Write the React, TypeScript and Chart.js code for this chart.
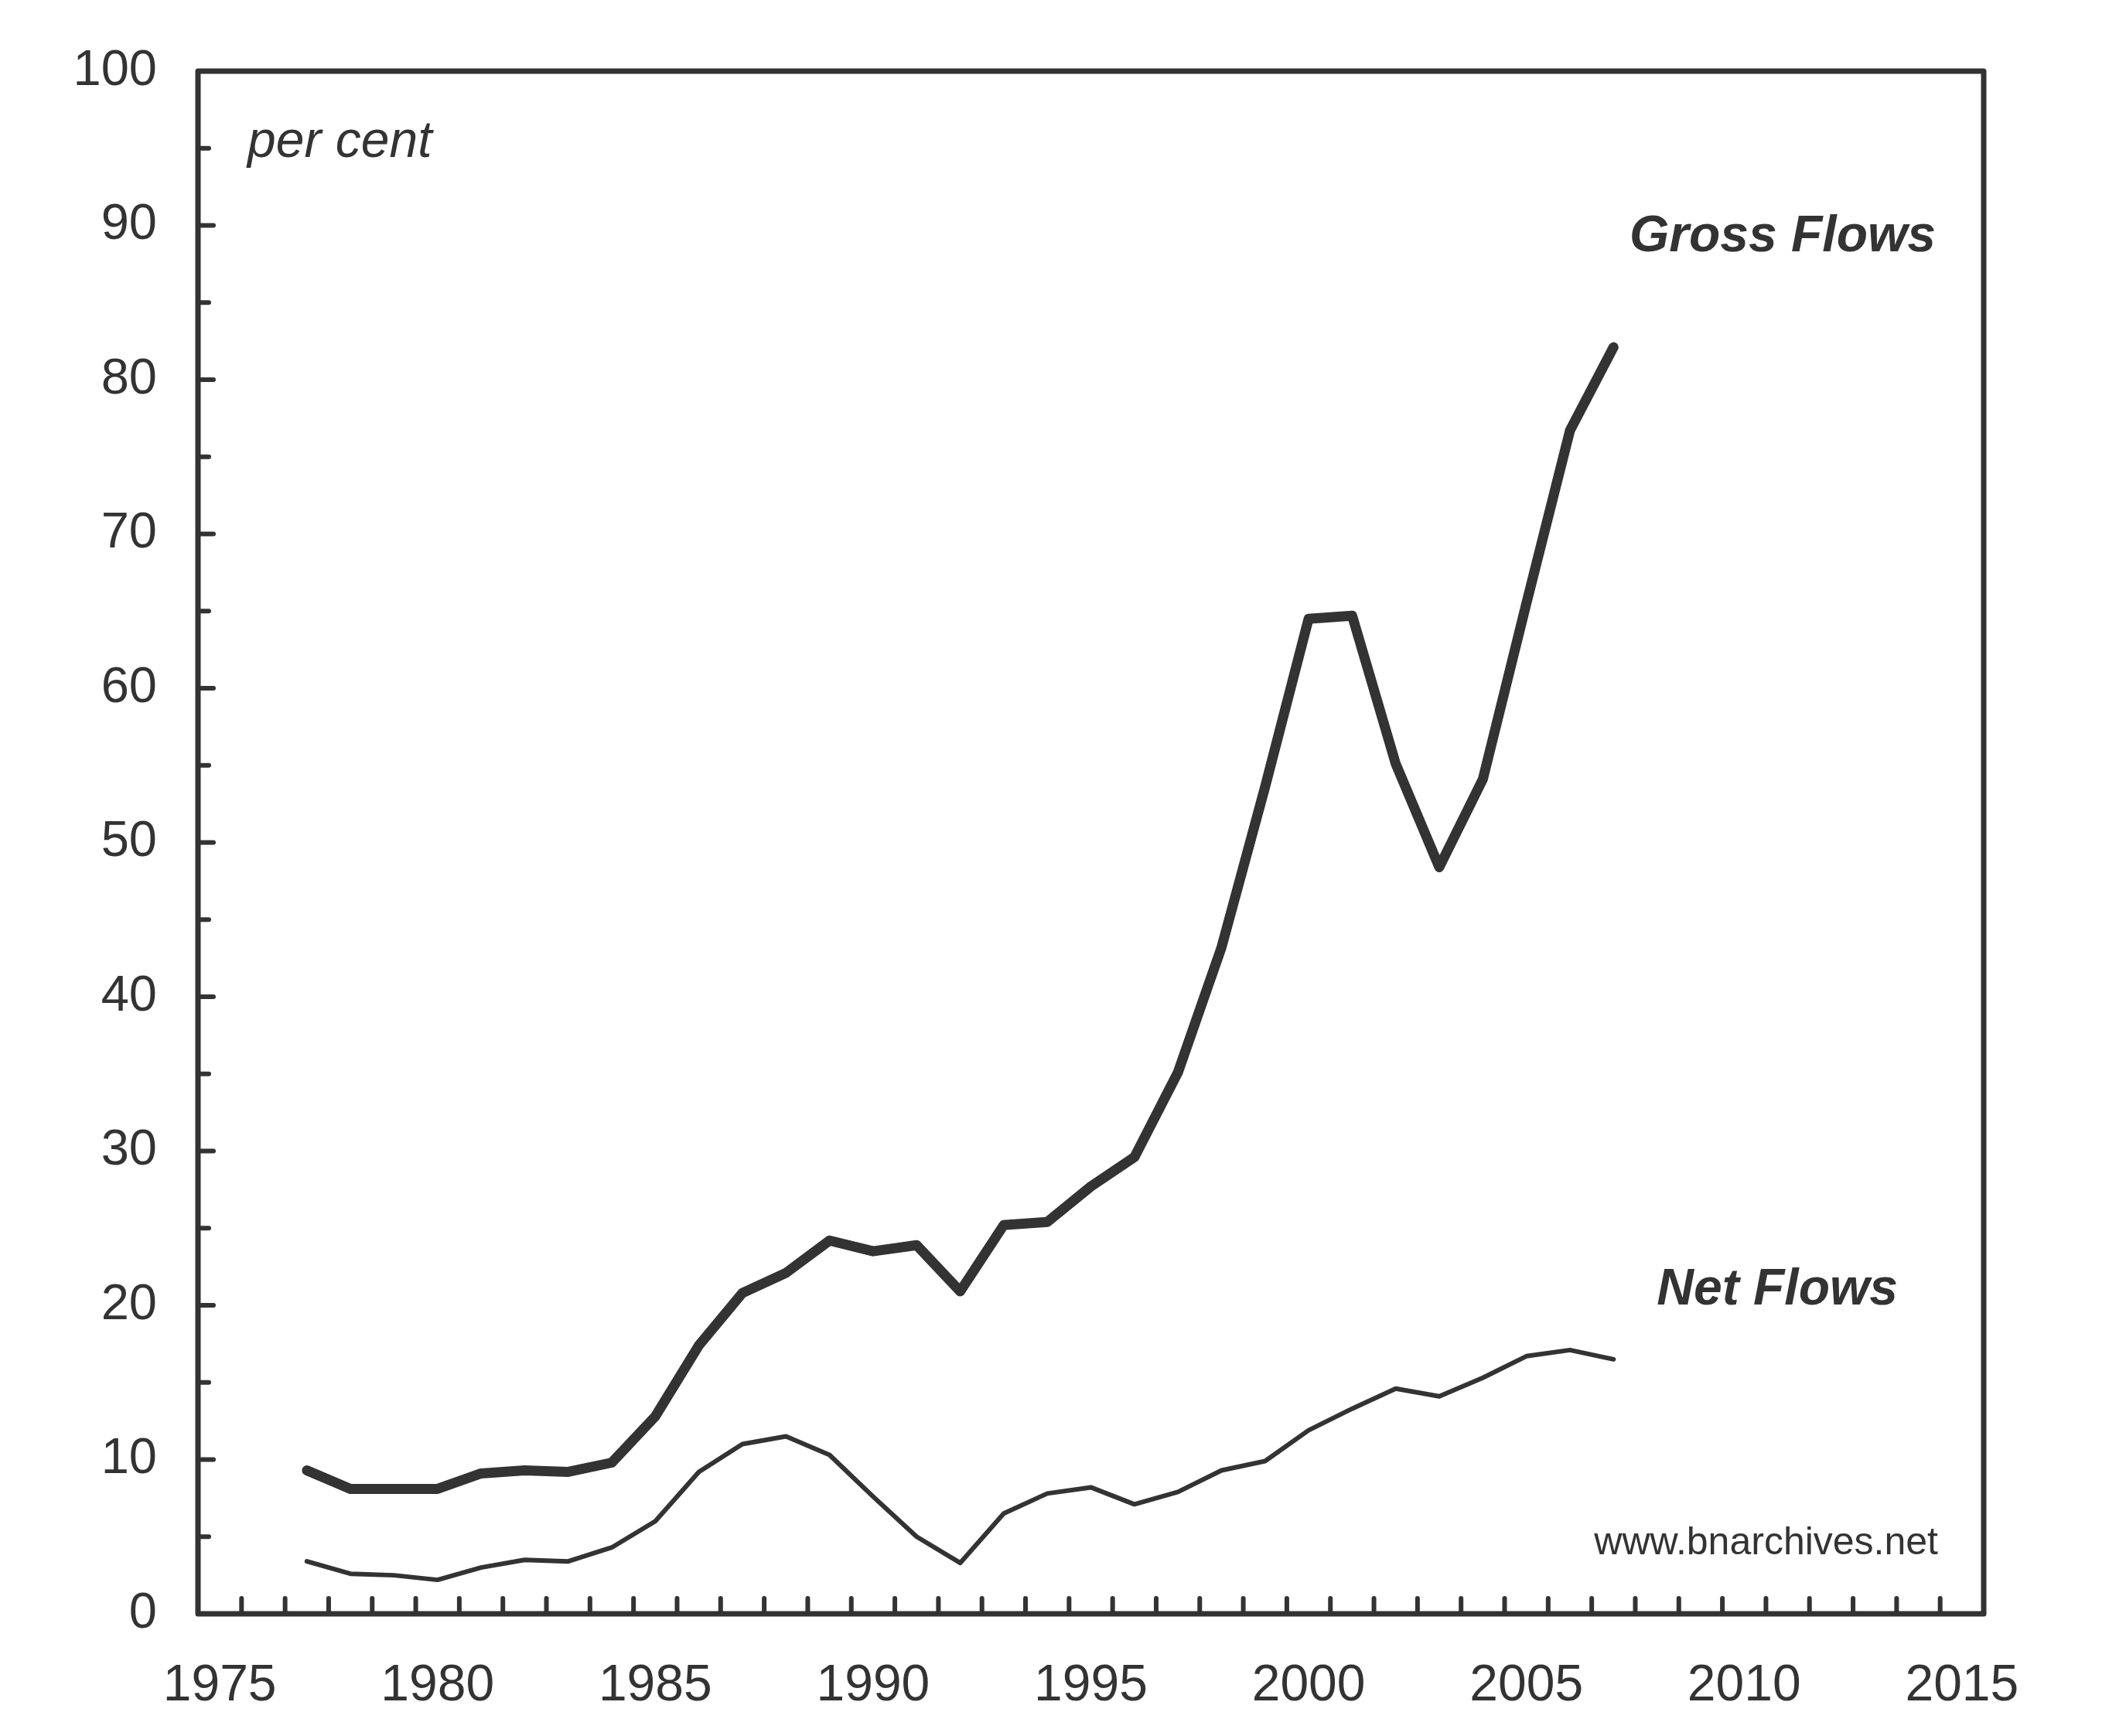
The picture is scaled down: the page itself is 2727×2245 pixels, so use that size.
import React, { useEffect, useRef } from "react";
import { Chart, registerables } from "chart.js";

Chart.register(...registerables);

// ---- data ----
const YEARS = [
  1977, 1978, 1979, 1980, 1981, 1982, 1983, 1984, 1985, 1986, 1987, 1988, 1989, 1990, 1991, 1992,
  1993, 1994, 1995, 1996, 1997, 1998, 1999, 2000, 2001, 2002, 2003, 2004, 2005, 2006, 2007,
];
const GROSS_FLOWS = [
  9.3, 8.1, 8.1, 8.1, 9.1, 9.3, 9.2, 9.8, 12.8, 17.4, 20.8, 22.1, 24.2, 23.5, 23.9, 20.9,
  25.2, 25.4, 27.7, 29.6, 35.1, 43.2, 53.6, 64.5, 64.7, 55.1, 48.4, 54.1, 65.5, 76.7, 82.1,
];
const NET_FLOWS = [
  3.4, 2.6, 2.5, 2.2, 3.0, 3.5, 3.4, 4.3, 6.0, 9.2, 11.0, 11.5, 10.3, 7.6, 5.0, 3.3,
  6.5, 7.8, 8.2, 7.1, 7.9, 9.3, 9.9, 11.9, 13.3, 14.6, 14.1, 15.3, 16.7, 17.1, 16.5,
];
const X_TICK_LABELS = [1975, 1980, 1985, 1990, 1995, 2000, 2005, 2010, 2015];
const Y_TICK_LABELS = [0, 10, 20, 30, 40, 50, 60, 70, 80, 90, 100];
const X_MIN = 1974.5;
const X_MAX = 2015.5;

const INK = "#333333";
const FONT = "'Liberation Sans', Arial, Helvetica, sans-serif";

const framePlugin = {
  id: "frameAndNotes",
  afterDraw(chart: any) {
    const { ctx, chartArea: ca, scales } = chart;
    const x = scales.x;
    const y = scales.y;
    ctx.save();
    ctx.strokeStyle = INK;
    ctx.fillStyle = INK;
    ctx.lineCap = "round";

    // inward x ticks at year boundaries
    ctx.lineWidth = 6;
    for (let b = X_MIN + 1; b < X_MAX; b += 1) {
      const px = x.getPixelForValue(b);
      ctx.beginPath();
      ctx.moveTo(px, ca.bottom);
      ctx.lineTo(px, ca.bottom - 20);
      ctx.stroke();
    }
    // inward y ticks every 5
    for (let v = 5; v < 100; v += 5) {
      const py = y.getPixelForValue(v);
      const len = v % 10 === 0 ? 20 : 14;
      ctx.beginPath();
      ctx.moveTo(ca.left, py);
      ctx.lineTo(ca.left + len, py);
      ctx.stroke();
    }

    // frame
    ctx.lineWidth = 7;
    ctx.lineJoin = "round";
    ctx.strokeRect(ca.left, ca.top, ca.right - ca.left, ca.bottom - ca.top);

    // notes
    ctx.textBaseline = "alphabetic";
    ctx.textAlign = "left";
    ctx.font = `italic 66px ${FONT}`;
    ctx.fillText("per cent", ca.left + 64, ca.top + 111);

    ctx.textAlign = "right";
    ctx.font = `italic bold 66px ${FONT}`;
    ctx.fillText("Gross Flows", ca.right - 62, ca.top + 233);
    ctx.fillText("Net Flows", ca.right - 111, ca.top + 1595);

    ctx.font = `50px ${FONT}`;
    ctx.fillText("www.bnarchives.net", ca.right - 59, ca.top + 1918);
    ctx.restore();
  },
};

export default function App() {
  const ref = useRef<HTMLCanvasElement | null>(null);

  useEffect(() => {
    document.body.style.margin = "0";
    const canvas = ref.current;
    if (!canvas) return;
    const chart = new Chart(canvas, {
      type: "line",
      data: {
        datasets: [
          {
            label: "Gross Flows",
            data: YEARS.map((yr, i) => ({ x: yr, y: GROSS_FLOWS[i] })),
            borderColor: INK,
            borderWidth: 13,
            borderJoinStyle: "round",
            borderCapStyle: "round",
            pointRadius: 0,
            tension: 0,
          },
          {
            label: "Net Flows",
            data: YEARS.map((yr, i) => ({ x: yr, y: NET_FLOWS[i] })),
            borderColor: INK,
            borderWidth: 6,
            borderJoinStyle: "round",
            borderCapStyle: "round",
            pointRadius: 0,
            tension: 0,
          },
        ],
      },
      options: {
        animation: false,
        responsive: false,
        devicePixelRatio: 1,
        layout: { padding: { left: 0, top: 92, right: 162, bottom: 0 } },
        plugins: {
          legend: { display: false },
          tooltip: { enabled: false },
        },
        scales: {
          x: {
            type: "linear",
            min: X_MIN,
            max: X_MAX,
            afterBuildTicks: (s: any) => {
              s.ticks = X_TICK_LABELS.map((v) => ({ value: v }));
            },
            afterFit: (s: any) => {
              s.height = 158;
            },
            grid: { display: false, drawTicks: false },
            border: { display: false },
            ticks: {
              padding: 54,
              color: INK,
              font: { family: FONT, size: 66 },
              maxRotation: 0,
              autoSkip: false,
              callback: (v: any) => String(v),
            },
          },
          y: {
            min: 0,
            max: 100,
            afterBuildTicks: (s: any) => {
              s.ticks = Y_TICK_LABELS.map((v) => ({ value: v }));
            },
            afterFit: (s: any) => {
              s.width = 256;
            },
            grid: { display: false, drawTicks: false },
            border: { display: false },
            ticks: {
              padding: 53,
              color: INK,
              font: { family: FONT, size: 65 },
              callback: (v: any) => String(v),
            },
          },
        },
      },
      plugins: [framePlugin],
    });
    return () => chart.destroy();
  }, []);

  return (
    <canvas
      ref={ref}
      width={2727}
      height={2245}
      style={{ display: "block", width: 2727, height: 2245 }}
    />
  );
}
